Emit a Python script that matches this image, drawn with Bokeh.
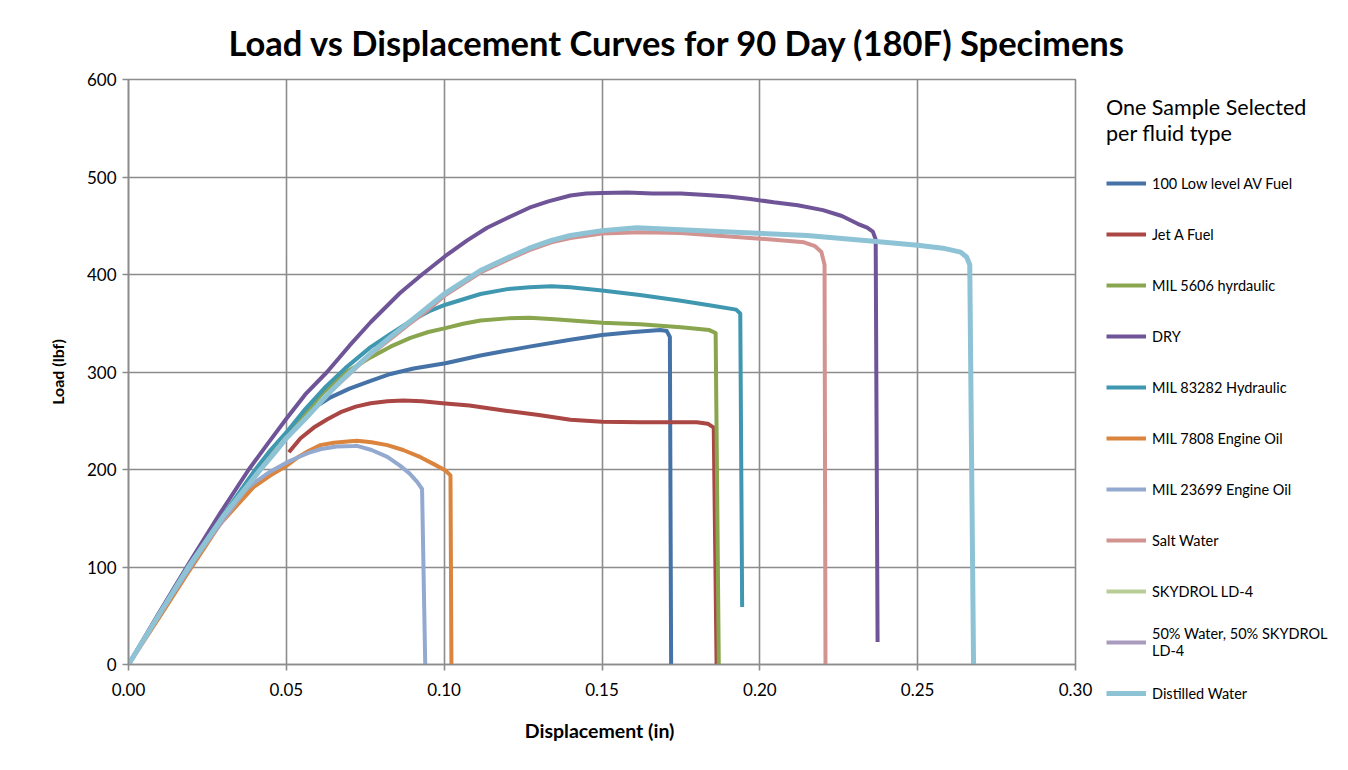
from bokeh.plotting import figure
from bokeh.models import Range1d, FixedTicker, Legend, LegendItem
from bokeh.embed import file_html
from bokeh.resources import INLINE

# ---------------- data ----------------
series_names = [
    "100 Low level AV Fuel",
    "Jet A Fuel",
    "MIL 5606 hyrdaulic",
    "DRY",
    "MIL 83282 Hydraulic",
    "MIL 7808 Engine Oil",
    "MIL 23699 Engine Oil",
    "Salt Water",
    "SKYDROL LD-4",
    "50% Water, 50% SKYDROL\nLD-4",
    "Distilled Water",
]
series_colors = ["#4572A7", "#AA4643", "#89A54E", "#6F5597", "#3F97B0", "#DB843D",
                 "#93A9CF", "#D39391", "#B9CD96", "#A99BBD", "#8EC3D6"]

x_av100 = [0, 0.0095, 0.019, 0.030, 0.0415, 0.050, 0.055, 0.058, 0.061, 0.064, 0.070, 0.0767, 0.083, 0.0903, 0.1004, 0.1115, 0.120, 0.127, 0.140, 0.150, 0.160, 0.1685, 0.1705, 0.1715, 0.1719]
y_av100 = [0, 50, 100, 153, 200, 234, 252, 262, 268, 274, 283, 291, 298, 303.6, 309, 317, 322, 326, 333, 338, 341, 343, 342, 336, 0]

x_jeta = [0.0508, 0.0545, 0.0587, 0.063, 0.0672, 0.072, 0.0767, 0.082, 0.087, 0.093, 0.0995, 0.108, 0.120, 0.130, 0.140, 0.150, 0.162, 0.180, 0.1835, 0.1854, 0.1863]
y_jeta = [217.7, 232, 243, 251.5, 258.8, 264.5, 268, 270, 270.7, 270, 268, 265.6, 260, 256, 251, 249, 248.5, 248.5, 247, 243, 0]

x_mil5606 = [0, 0.0095, 0.019, 0.030, 0.042, 0.050, 0.056, 0.062, 0.068, 0.0767, 0.083, 0.0893, 0.095, 0.1004, 0.106, 0.1115, 0.120, 0.127, 0.135, 0.150, 0.162, 0.175, 0.184, 0.186, 0.187]
y_mil5606 = [0, 50, 100, 153, 201, 235, 258, 280, 298, 315, 326, 335, 341, 345, 349.5, 352.8, 355, 355.6, 354, 350.4, 349, 346, 343, 340, 0]

x_dry = [0, 0.0095, 0.019, 0.029, 0.0381, 0.044, 0.050, 0.056, 0.0629, 0.070, 0.0767, 0.0798, 0.086, 0.093, 0.1004, 0.1073, 0.1136, 0.120, 0.127, 0.133, 0.140, 0.145, 0.150, 0.158, 0.166, 0.175, 0.183, 0.190, 0.197, 0.2044, 0.212, 0.220, 0.226, 0.231, 0.234, 0.2358, 0.2367, 0.2373]
y_dry = [0, 52, 103, 155, 200, 226, 252, 277, 300, 327, 351, 361, 381, 400, 419, 435, 448, 458, 468.5, 475, 481, 483, 483.7, 484, 483, 483, 481.5, 480, 477.5, 474, 471, 466, 460, 452, 448, 444, 436, 23]

x_mil83282 = [0, 0.0095, 0.019, 0.030, 0.0402, 0.045, 0.050, 0.056, 0.0625, 0.0687, 0.0767, 0.083, 0.0893, 0.0957, 0.1004, 0.1115, 0.120, 0.127, 0.134, 0.140, 0.150, 0.162, 0.175, 0.185, 0.1925, 0.1938, 0.1944]
y_mil83282 = [0, 51, 101, 153, 200, 220, 238, 262, 285, 304, 325.5, 339, 352, 363, 369, 380, 385, 387, 388, 387, 383.6, 379, 373, 368, 364, 360, 59]

x_mil7808 = [0, 0.0095, 0.0186, 0.029, 0.0396, 0.045, 0.0497, 0.0534, 0.057, 0.0608, 0.065, 0.0703, 0.0724, 0.077, 0.082, 0.087, 0.0925, 0.097, 0.1004, 0.102, 0.1023]
y_mil7808 = [0, 47, 93, 144, 182, 194, 203, 212, 219, 225, 227.5, 229, 229.5, 228, 225, 220, 212.6, 205, 199, 194, 0]

x_mil23699 = [0, 0.0095, 0.019, 0.029, 0.036, 0.0396, 0.045, 0.050, 0.0534, 0.057, 0.061, 0.066, 0.0713, 0.0724, 0.077, 0.082, 0.086, 0.089, 0.0915, 0.093, 0.094]
y_mil23699 = [0, 50, 97, 147, 176, 186, 198, 207, 212, 217, 221, 223.5, 224, 224.3, 220, 213, 204, 196, 187, 180, 0]

x_salt = [0, 0.0095, 0.019, 0.030, 0.0418, 0.046, 0.050, 0.056, 0.060, 0.064, 0.068, 0.072, 0.0767, 0.083, 0.0893, 0.095, 0.1004, 0.1115, 0.120, 0.127, 0.134, 0.140, 0.150, 0.162, 0.175, 0.199, 0.214, 0.2175, 0.2195, 0.2205, 0.2208]
y_salt = [0, 50, 100, 152, 200, 216, 232, 252, 266, 280, 292, 304, 318, 334, 350, 364, 379, 402, 415, 425, 433, 437.5, 442, 443.4, 442.5, 437, 433, 429, 423, 410, 0]

x_skydrol = [0, 0.019, 0.0418, 0.050]
y_skydrol = [0, 100, 200, 233]

x_water_skydrol = [0, 0.019, 0.0418, 0.050]
y_water_skydrol = [0, 100, 200, 232]

x_distilled = [0, 0.0095, 0.019, 0.030, 0.0418, 0.046, 0.050, 0.056, 0.060, 0.064, 0.068, 0.072, 0.0767, 0.083, 0.0893, 0.095, 0.1004, 0.1115, 0.120, 0.127, 0.134, 0.140, 0.150, 0.161, 0.175, 0.194, 0.215, 0.236, 0.250, 0.258, 0.2636, 0.2655, 0.2665, 0.2677]
y_distilled = [0, 50, 100, 152, 200, 216, 232, 252, 266, 280, 293, 305, 319, 336, 352, 367, 381, 404, 417, 427, 435, 440, 445, 448, 446, 443, 440, 434, 430, 427, 423, 418, 410, 0]

series_x = [x_av100, x_jeta, x_mil5606, x_dry, x_mil83282, x_mil7808, x_mil23699, x_salt, x_skydrol, x_water_skydrol, x_distilled]
series_y = [y_av100, y_jeta, y_mil5606, y_dry, y_mil83282, y_mil7808, y_mil23699, y_salt, y_skydrol, y_water_skydrol, y_distilled]

x_ticks = [0.0, 0.05, 0.10, 0.15, 0.20, 0.25, 0.30]
x_tick_labels = ["0.00", "0.05", "0.10", "0.15", "0.20", "0.25", "0.30"]
y_ticks = [0, 100, 200, 300, 400, 500, 600]

title_text = "Load vs Displacement Curves for 90 Day (180F) Specimens"
legend_title = "One Sample Selected\nper fluid type"

# ---------------- figure ----------------
GRID = "#8C8C8C"
FONT = "Lato"

p = figure(width=1332, height=754, output_backend="svg", toolbar_location=None,
           x_range=Range1d(0, 0.30), y_range=Range1d(0, 600),
           min_border_left=128, min_border_top=79,
           min_border_right=257, min_border_bottom=90)
p.background_fill_color = "white"
p.border_fill_color = "white"
p.outline_line_color = GRID
p.outline_line_width = 1.6

p.title.text = title_text
p.title.align = "left"
p.title.offset = 100
p.title.standoff = 33
p.title.text_font = FONT
p.title.text_font_style = "bold"
p.title.text_font_size = "34.5px"
p.title.text_color = "black"

for ax in (p.xaxis[0], p.yaxis[0]):
    ax.axis_line_color = GRID
    ax.axis_line_width = 1.6
    ax.major_tick_line_color = GRID
    ax.major_tick_line_width = 1.6
    ax.major_tick_out = 6
    ax.major_tick_in = 0
    ax.minor_tick_line_color = None
    ax.major_label_text_font = FONT
    ax.major_label_text_font_size = "17px"
    ax.major_label_text_color = "black"
    ax.axis_label_text_font = FONT
    ax.axis_label_text_font_style = "bold"
    ax.axis_label_text_color = "black"

p.xaxis.axis_label_text_font_size = "19.5px"
p.yaxis.axis_label_text_font_size = "16px"
p.xaxis.ticker = FixedTicker(ticks=x_ticks)
p.xaxis.major_label_overrides = {t: l for t, l in zip(x_ticks, x_tick_labels)}
p.yaxis.ticker = FixedTicker(ticks=y_ticks)
p.xaxis.axis_label = "Displacement  (in)"
p.yaxis.axis_label = "Load (lbf)"
p.xaxis.major_label_standoff = 12
p.yaxis.major_label_standoff = 6
p.xaxis.axis_label_standoff = 20
p.yaxis.axis_label_standoff = 17

p.xgrid.ticker = FixedTicker(ticks=x_ticks)
p.ygrid.ticker = FixedTicker(ticks=y_ticks)
for g in (p.xgrid[0], p.ygrid[0]):
    g.grid_line_color = GRID
    g.grid_line_width = 1.6

items = []
for name, col, xs, ys in zip(series_names, series_colors, series_x, series_y):
    lw = 5 if name == "Distilled Water" else 4
    r = p.line(xs, ys, line_color=col, line_width=lw, line_join="round")
    items.append(LegendItem(label=name, renderers=[r]))

legend = Legend(items=items, location=(31, -47), orientation="vertical",
                glyph_width=40, glyph_height=36, label_height=36, spacing=15,
                label_standoff=6, padding=0, margin=-229,
                label_text_font=FONT, label_text_font_size="14.5px",
                label_text_color="black",
                title=legend_title, title_text_font=FONT,
                title_text_font_size="21.5px", title_text_font_style="normal",
                title_text_color="black", title_standoff=19,
                border_line_color=None, background_fill_alpha=0)
p.add_layout(legend, "right")

open("out.html", "w").write(file_html(p, INLINE))
